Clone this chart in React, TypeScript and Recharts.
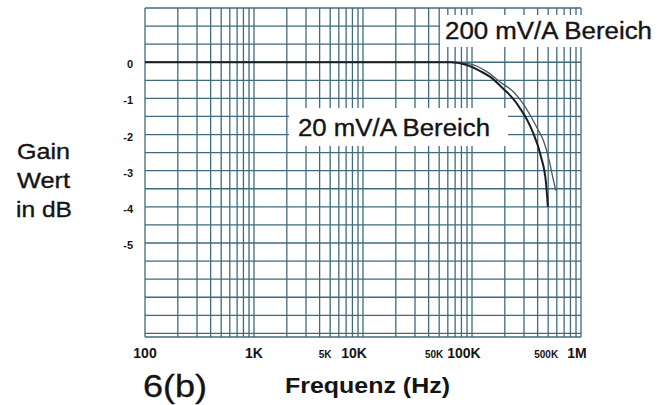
import React from 'react';
import { LineChart, Line, XAxis, YAxis, CartesianGrid } from 'recharts';

// Frequency grid (Hz) and labels
const freqTicks: number[] = [
  100, 200, 300, 400, 500, 600, 700, 800, 900,
  1000, 2000, 3000, 4000, 5000, 6000, 7000, 8000, 9000,
  10000, 20000, 30000, 40000, 50000, 60000, 70000, 80000, 90000,
  100000, 200000, 300000, 400000, 500000, 600000, 700000, 800000, 900000,
  1000000,
];
const freqLabelValues: number[] = [100, 1000, 5000, 10000, 50000, 100000, 500000, 1000000];
const freqLabelTexts: string[] = ['100', '1K', '5K', '10K', '50K', '100K', '500K', '1M'];
const smallFreqLabels: string[] = ['5K', '50K', '500K'];

// Gain grid (dB) and labels
const gainTicks: number[] = [
  1.5, 1, 0.5, 0, -0.5, -1, -1.5, -2, -2.5, -3, -3.5, -4, -4.5, -5,
  -5.5, -6, -6.5, -7, -7.5, -7.6,
];
const gainLabelValues: number[] = [0, -1, -2, -3, -4, -5];

// 20 mV/A Bereich (inner, darker curve)
const freq20: number[] = [100, 1000, 10000, 51600, 63800, 87700, 120000, 149000, 196000, 237000, 281000, 326000, 362000, 429000, 477000, 497000];
const gain20: number[] = [0, 0, 0, 0, 0, -0.07, -0.25, -0.42, -0.75, -1.0, -1.31, -1.64, -1.94, -2.61, -3.33, -4.0];

// 200 mV/A Bereich (outer, lighter curve)
const freq200: number[] = [100, 1000, 10000, 63800, 97600, 140000, 184000, 242000, 293000, 347000, 402000, 448000, 508000, 565000, 588000];
const gain200: number[] = [0, 0, 0, 0, -0.05, -0.28, -0.56, -0.83, -1.14, -1.5, -1.86, -2.14, -2.69, -3.33, -3.55];

const data20 = freq20.map((f, i) => ({ f, g: gain20[i] }));
const data200 = freq200.map((f, i) => ({ f, g: gain200[i] }));

const FONT = 'Arial, "Liberation Sans", Helvetica, sans-serif';
const GRID = '#3f6b7b';
const INK = '#141414';

const labelDx: Record<string, number> = { '10K': -9, '100K': -8, '5K': -5, '50K': -5, '1M': -4, '500K': -2 };

const XTick = (props: any) => {
  const { x, y, payload } = props;
  const idx = freqLabelValues.indexOf(payload.value);
  if (idx < 0) return null;
  const text = freqLabelTexts[idx];
  const small = smallFreqLabels.includes(text);
  return (
    <text
      x={x + (labelDx[text] || 0)}
      y={y + 21}
      textAnchor="middle"
      fontFamily={FONT}
      fontWeight="bold"
      fontSize={small ? 10 : 14}
      fill={INK}
    >
      {text}
    </text>
  );
};

const YTick = (props: any) => {
  const { x, y, payload } = props;
  if (!gainLabelValues.includes(payload.value)) return null;
  return (
    <text
      x={x}
      y={y + 6}
      textAnchor="end"
      fontFamily={FONT}
      fontWeight="bold"
      fontSize={11}
      fill={INK}
    >
      {String(payload.value)}
    </text>
  );
};

const txt = { fontFamily: FONT, fill: INK, stroke: INK, strokeWidth: 0.35 } as const;

export default function App() {
  return (
    <div style={{ position: 'absolute', left: 0, top: 0, width: 671, height: 405, background: '#fff' }}>
      <LineChart
        width={671}
        height={405}
        margin={{ top: 8, right: 90, bottom: 38, left: 85 }}
      >
        <CartesianGrid stroke={GRID} strokeWidth={1.3} />
        <XAxis
          dataKey="f"
          type="number"
          scale="log"
          domain={[100, 1000000]}
          ticks={freqTicks}
          interval={0}
          allowDataOverflow
          tick={<XTick />}
          tickLine={false}
          axisLine={false}
          tickSize={0}
          tickMargin={0}
          height={30}
        />
        <YAxis
          type="number"
          domain={[-7.6, 1.5]}
          ticks={gainTicks}
          interval={0}
          allowDataOverflow
          tick={<YTick />}
          tickLine={false}
          axisLine={false}
          tickSize={0}
          tickMargin={12}
          width={60}
        />
        <Line
          data={data200}
          dataKey="g"
          type="monotone"
          stroke="#4d575b"
          strokeWidth={1.3}
          dot={false}
          isAnimationActive={false}
        />
        <Line
          data={data20}
          dataKey="g"
          type="monotone"
          stroke="#182024"
          strokeWidth={2}
          dot={false}
          isAnimationActive={false}
        />
      </LineChart>
      <svg width={671} height={405} style={{ position: 'absolute', left: 0, top: 0, pointerEvents: 'none' }}>
        <rect x={440} y={15} width={220} height={32} fill="#fff" />
        <text x={445} y={39} {...txt} fontSize={23} textLength={207} lengthAdjust="spacingAndGlyphs">200 mV/A Bereich</text>
        <rect x={289} y={108} width={219} height={38} fill="#fff" />
        <text x={298} y={136} {...txt} fontSize={23} textLength={192} lengthAdjust="spacingAndGlyphs">20 mV/A Bereich</text>
        <text x={17} y={159} {...txt} fontSize={22} textLength={53} lengthAdjust="spacingAndGlyphs">Gain</text>
        <text x={17} y={188} {...txt} fontSize={22} textLength={53} lengthAdjust="spacingAndGlyphs">Wert</text>
        <text x={16} y={217} {...txt} fontSize={22} textLength={56} lengthAdjust="spacingAndGlyphs">in dB</text>
        <text x={143} y={397} {...txt} fontSize={32} textLength={64} lengthAdjust="spacingAndGlyphs">6(b)</text>
        <text x={285} y={393} fontFamily={FONT} fill={INK} fontWeight="bold" fontSize={22} textLength={165} lengthAdjust="spacingAndGlyphs">Frequenz (Hz)</text>
      </svg>
    </div>
  );
}
